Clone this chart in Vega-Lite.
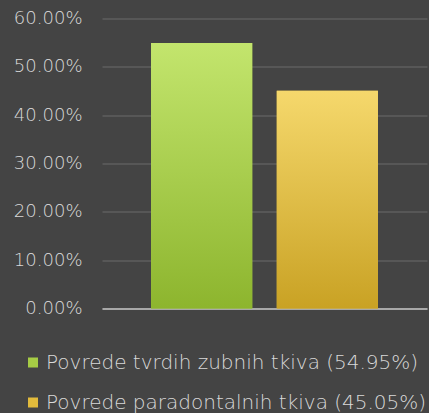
{
  "$schema": "https://vega.github.io/schema/vega-lite/v6.json",
  "width": 325,
  "height": 290,
  "autosize": {"type": "none"},
  "padding": {"left": 102, "top": 18.5, "right": 2, "bottom": 104.5},
  "background": "#444444",
  "config": {"view": {"stroke": null}, "font": "DejaVu Sans"},
  "data": {
    "values": [
      {"series": "Povrede tvrdih zubnih tkiva (54.95%)", "value": 0.5495},
      {"series": "Povrede paradontalnih tkiva (45.05%)", "value": 0.4505}
    ]
  },
  "encoding": {
    "x": {
      "field": "series",
      "type": "nominal",
      "sort": null,
      "scale": {"paddingInner": 0.195, "paddingOuter": 0.39},
      "axis": {"labels": false, "ticks": false, "title": null, "domainColor": "#a8a8a8", "domainWidth": 2}
    },
    "y": {
      "field": "value",
      "type": "quantitative",
      "scale": {"domain": [0, 0.6]},
      "axis": {
        "format": ".2%",
        "values": [0, 0.1, 0.2, 0.3, 0.4, 0.5, 0.6],
        "title": null,
        "domain": false,
        "ticks": false,
        "labelPadding": 20,
        "labelFontSize": 18,
        "labelFontWeight": 300,
        "labelColor": "#d9d9d9",
        "gridColor": "#5e5e5e",
        "gridWidth": 1.5
      }
    }
  },
  "layer": [
    {
      "mark": {"type": "bar"},
      "encoding": {
        "color": {
          "field": "series",
          "type": "nominal",
          "sort": null,
          "scale": {"range": ["#a6cc45", "#e2bb3c"]},
          "legend": {
            "title": null,
            "orient": "none",
            "legendX": -79,
            "legendY": 334,
            "direction": "vertical",
            "padding": 0,
            "symbolType": "square",
            "symbolSize": 100,
            "symbolStrokeWidth": 0,
            "symbolOpacity": 1,
            "labelFontSize": 20,
            "labelFontWeight": 300,
            "labelColor": "#d9d9d9",
            "labelOffset": 3,
            "labelLimit": 500,
            "rowPadding": 20
          }
        }
      }
    },
    {
      "transform": [{"filter": "datum.series === 'Povrede tvrdih zubnih tkiva (54.95%)'"}],
      "mark": {
        "type": "bar",
        "color": {
          "gradient": "linear", "x1": 0, "y1": 0, "x2": 0, "y2": 1,
          "stops": [{"offset": 0, "color": "#c3e56d"}, {"offset": 1, "color": "#8db52e"}]
        }
      }
    },
    {
      "transform": [{"filter": "datum.series === 'Povrede paradontalnih tkiva (45.05%)'"}],
      "mark": {
        "type": "bar",
        "color": {
          "gradient": "linear", "x1": 0, "y1": 0, "x2": 0, "y2": 1,
          "stops": [{"offset": 0, "color": "#f5d86c"}, {"offset": 1, "color": "#c9a224"}]
        }
      }
    }
  ]
}
